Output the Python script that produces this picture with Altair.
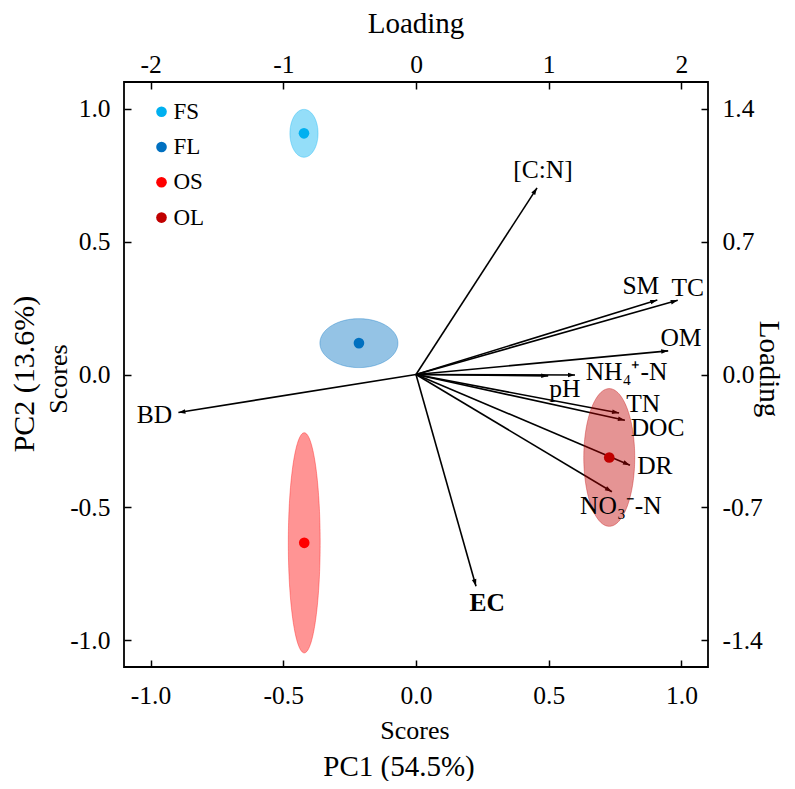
import altair as alt
import numpy as np
import pandas as pd

# ---- data ----
groups = ["FS", "FL", "OS", "OL"]
group_x = [-0.422, -0.215, -0.421, 0.728]
group_y = [0.907, 0.118, -0.633, -0.312]
ell_rx = [0.053, 0.147, 0.060, 0.096]
ell_ry = [0.090, 0.092, 0.414, 0.259]
group_colors = ["#00B0F0", "#0070C0", "#FF0000", "#C00000"]

variables = ["[C:N]", "SM", "TC", "OM", "NH₄⁺-N", "pH", "TN", "DOC", "DR", "NO₃⁻-N", "EC", "BD"]
load_x = [0.456, 0.909, 0.986, 0.950, 0.599, 0.498, 0.765, 0.787, 0.806, 0.738, 0.226, -0.895]
load_y = [0.702, 0.280, 0.279, 0.089, -0.002, -0.005, -0.145, -0.172, -0.341, -0.441, -0.796, -0.143]
label_x = [0.478, 0.847, 1.024, 0.998, 0.793, 0.561, 0.856, 0.910, 0.900, 0.772, 0.268, -0.985]
label_y = [0.768, 0.334, 0.326, 0.137, 0.009, -0.055, -0.110, -0.202, -0.343, -0.493, -0.860, -0.153]
bold_labels = ["EC"]

score_ticks = [-1.0, -0.5, 0.0, 0.5, 1.0]
loading_x_ticks = [-2, -1, 0, 1, 2]
loading_y_ticks = [-1.4, -0.7, 0.0, 0.7, 1.4]
score_domain = [-1.1, 1.1]
loading_x_domain = [-2.2, 2.2]
loading_y_domain = [-1.54, 1.54]

FONT = "Liberation Serif"
MINUS_FIX = "replace(datum.label, '\u2212', '-')"

# ---- tables ----
grp_df = pd.DataFrame({"group": groups, "x": group_x, "y": group_y})
rows = []
t = np.linspace(0, np.pi, 121)
for g, cx, cy, rx, ry in zip(groups, group_x, group_y, ell_rx, ell_ry):
    for tt in t:
        rows.append({"egroup": g, "x": cx + rx * np.cos(tt),
                     "y": cy + ry * np.sin(tt), "y2": cy - ry * np.sin(tt)})
ell_df = pd.DataFrame(rows)
load_df = pd.DataFrame({"name": variables, "x": load_x, "y": load_y,
                        "lx": label_x, "ly": label_y})

x_axis = alt.Axis(values=score_ticks, format=".1f", labelExpr=MINUS_FIX, title=None,
                  orient="bottom", domain=False, grid=False, tickSize=7, offset=-7,
                  labelPadding=16)
y_axis = alt.Axis(values=score_ticks, format=".1f", labelExpr=MINUS_FIX, title=None,
                  orient="left", domain=False, grid=False, tickSize=7, offset=-7,
                  labelPadding=14)
sx = alt.Scale(domain=score_domain, nice=False, zero=False)
sy = alt.Scale(domain=score_domain, nice=False, zero=False)


def X(f):
    return alt.X(f, type="quantitative", scale=sx, axis=x_axis)


def Y(f, **kw):
    return alt.Y(f, type="quantitative", scale=sy, axis=y_axis, **kw)


arrows = alt.Chart(load_df).transform_calculate(x0="0", y0="0").mark_rule(
    color="black", strokeWidth=1.6
).encode(x=X("x"), y=Y("y"), x2="x0:Q", y2="y0:Q")

heads = alt.Chart(load_df).transform_calculate(
    ang="(atan2(datum.x, datum.y) * 180 / PI + 360) % 360"
).mark_point(shape="M0,0L-0.33,1L0.33,1Z", filled=True, size=196, color="black",
             opacity=1, strokeWidth=0).encode(
    x=X("x"), y=Y("y"), angle=alt.Angle("ang:Q", scale=None)
)

ellipses = alt.Chart(ell_df).mark_area(fillOpacity=0.42, strokeOpacity=0.35,
                                       strokeWidth=1).encode(
    x=X("x"), y=Y("y", stack=None), y2="y2:Q",
    fill=alt.Fill("egroup:N", scale=alt.Scale(domain=groups, range=group_colors),
                  legend=None),
    stroke=alt.Stroke("egroup:N", scale=alt.Scale(domain=groups, range=group_colors),
                      legend=None),
    detail="egroup:N",
)

points = alt.Chart(grp_df).mark_circle(size=113, opacity=1).encode(
    x=X("x"), y=Y("y"),
    color=alt.Color("group:N", scale=alt.Scale(domain=groups, range=group_colors),
                    legend=None),
)

labels = alt.Chart(load_df).transform_filter(
    ~alt.FieldOneOfPredicate(field="name", oneOf=bold_labels)
).mark_text(font=FONT, fontSize=25.5, baseline="middle", align="center",
            color="black").encode(x=X("lx"), y=Y("ly"), text="name:N")

labels_bold = alt.Chart(load_df).transform_filter(
    alt.FieldOneOfPredicate(field="name", oneOf=bold_labels)
).mark_text(font=FONT, fontSize=25.5, fontWeight="bold", baseline="middle",
            align="center", color="black").encode(x=X("lx"), y=Y("ly"), text="name:N")

one = alt.Data(values=[{}])


def title_text(txt, x, y, size, angle=0):
    kw = dict(text=txt, font=FONT, fontSize=size, baseline="middle", align="center",
              color="black")
    if angle:
        kw["angle"] = angle
    return alt.Chart(one).mark_text(**kw).encode(x=alt.value(x), y=alt.value(y))


titles = [
    title_text("Loading", 292, -58, 29),
    title_text("Scores", 291, 649, 26),
    title_text("PC1 (54.5%)", 275, 685, 29),
    title_text("Scores", -65, 297, 26, 270),
    title_text("PC2 (13.6%)", -99, 292, 30, 270),
    title_text("Loading", 645, 287, 29, 90),
]

main = alt.layer(arrows, heads, ellipses, points, labels, labels_bold, *titles)

dummy = alt.Chart(alt.Data(values=[{"a": 0, "b": 0}])).mark_point(opacity=0).encode(
    x=alt.X("a:Q", scale=alt.Scale(domain=loading_x_domain, nice=False, zero=False),
            axis=alt.Axis(values=loading_x_ticks, format="d", labelExpr=MINUS_FIX,
                          title=None, orient="top", domain=False, grid=False,
                          tickSize=7, offset=-7, labelPadding=5)),
    y=alt.Y("b:Q", scale=alt.Scale(domain=loading_y_domain, nice=False, zero=False),
            axis=alt.Axis(values=loading_y_ticks, format=".1f", labelExpr=MINUS_FIX,
                          title=None, orient="right", domain=False, grid=False,
                          tickSize=7, offset=-7, labelPadding=14)),
)

# legend drawn as marks in its own layer (top-left inside the frame)
legend_df = pd.DataFrame({"group": groups, "row": list(range(len(groups)))})
leg_rows = alt.Scale(domain=[0, len(groups) - 1], range=[29.7, 135.6], nice=False,
                     zero=False)
legend_base = alt.Chart(legend_df)
legend_pts = legend_base.mark_circle(size=113, opacity=1).encode(
    x=alt.value(37.5),
    y=alt.Y("row:Q", scale=leg_rows, axis=None),
    color=alt.Color("group:N", scale=alt.Scale(domain=groups, range=group_colors),
                    legend=None),
)
legend_txt = legend_base.mark_text(font=FONT, fontSize=23, align="left",
                                   baseline="middle", color="black").encode(
    x=alt.value(49.5),
    y=alt.Y("row:Q", scale=leg_rows, axis=None),
    text="group:N",
)
legend_layer = alt.layer(legend_pts, legend_txt)

chart = alt.layer(main, dummy, legend_layer).resolve_scale(
    x="independent", y="independent", color="independent"
).properties(
    width=584, height=585,
    padding={"left": 116, "top": 74, "right": 79, "bottom": 114},
    autosize=alt.AutoSizeParams(type="none"),
).configure_view(stroke="black", strokeWidth=1.8).configure_axis(
    labelFont=FONT, labelFontSize=25.5, labelColor="black", tickColor="black",
    tickWidth=1.5
)

chart.save("out.html", embed_options={"renderer": "svg", "actions": False})
